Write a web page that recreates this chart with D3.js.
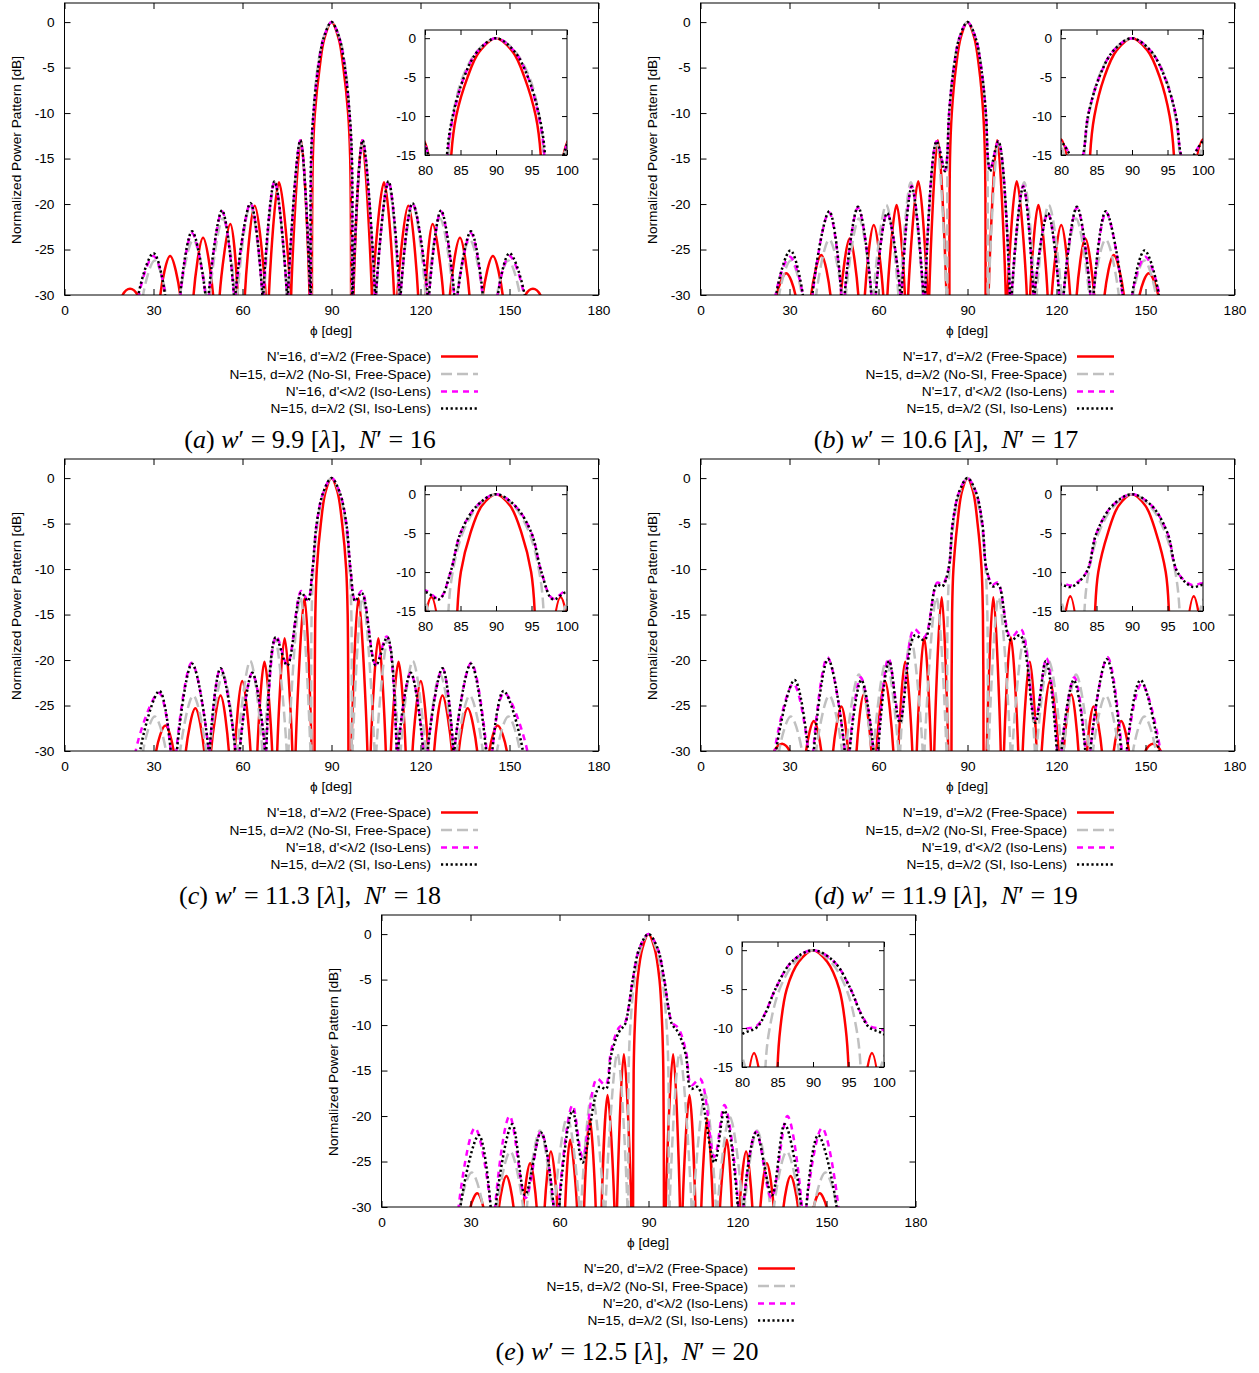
<!DOCTYPE html>
<html>
<head>
<meta charset="utf-8">
<script src="https://cdn.jsdelivr.net/npm/d3@7"></script>
<style>
    body { margin: 0; background: #fff; }
    svg text { font-family: "Liberation Sans", Arial, Helvetica, sans-serif; font-size: 13.7px; fill: #000; }
    svg text.cap { font-family: "Liberation Serif", "DejaVu Serif", serif; font-size: 26px; white-space: pre; }
</style>
</head>
<body>
<svg id="chart" width="1259" height="1373"></svg>
<script>
// panel captions
const panelKeys = ['a', 'b', 'c', 'd', 'e'];
const nPrimeValues = [16, 17, 18, 19, 20];
const widthValues = ['9.9', '10.6', '11.3', '11.9', '12.5'];

const xTicks = [0, 30, 60, 90, 120, 150, 180];
const yTicks = [0, -5, -10, -15, -20, -25, -30];
const xInsetTicks = [80, 85, 90, 95, 100];
const yInsetTicks = [0, -5, -10, -15];

// every curve is a list of lobes, each lobe a list of [phi deg, dB];
// a lobe starts and ends where it crosses the -30 dB floor

// N=15, d=λ/2 (No-SI, Free-Space): the same reference curve in every panel
const n15Free = [
    [[26.5,-30],[30.4,-26.2],[34.2,-30]],
    [[39.0,-30],[43.4,-23.9],[47.7,-30]],
    [[49.0,-30],[53.4,-21.6],[57.6,-30]],
    [[58.3,-30],[62.6,-20.1],[66.7,-30]],
    [[67.3,-30],[70.9,-17.6],[74.9,-30]],
    [[75.5,-30],[79.5,-13.1],[82.9,-30]],
    [[83.2,-30],[83.3,-15],[83.9,-10],[85.3,-5],[87.4,-1.6],[90,0],[92.6,-1.6],[94.7,-5],[96.1,-10],[96.7,-15],[96.8,-30]],
    [[97.1,-30],[100.5,-13.1],[104.5,-30]],
    [[105.1,-30],[109.1,-17.6],[112.7,-30]],
    [[113.3,-30],[117.4,-20.1],[121.7,-30]],
    [[122.4,-30],[126.6,-21.6],[131.0,-30]],
    [[132.3,-30],[136.6,-23.9],[141.0,-30]],
    [[145.8,-30],[149.6,-26.2],[153.5,-30]]
];

// (a) N'=16
const redA = [
    [[19.6,-30],[22.1,-29.3],[24.6,-30]],
    [[32.3,-30],[35.6,-25.7],[39.0,-30]],
    [[43.5,-30],[46.7,-23.7],[50.1,-30]],
    [[52.3,-30],[55.9,-22.2],[58.4,-30]],
    [[60.8,-30],[64.1,-20.2],[67.8,-30]],
    [[68.9,-30],[72.3,-17.6],[76.2,-30]],
    [[76.4,-30],[79.7,-13.0],[82.6,-30]],
    [[83.4,-30],[83.7,-15],[84.4,-10],[86.0,-5],[87.6,-1.8],[90,0],[92.4,-1.8],[94.0,-5],[95.6,-10],[96.3,-15],[96.6,-30]],
    [[97.4,-30],[100.3,-13.0],[103.6,-30]],
    [[103.8,-30],[107.7,-17.6],[111.1,-30]],
    [[112.2,-30],[115.9,-20.2],[119.2,-30]],
    [[121.6,-30],[124.1,-22.2],[127.7,-30]],
    [[129.9,-30],[133.3,-23.7],[136.5,-30]],
    [[141.0,-30],[144.4,-25.7],[147.7,-30]],
    [[155.4,-30],[157.9,-29.3],[160.4,-30]]
];
const magA = [
    [[25.1,-30],[30.0,-25.7],[34.0,-30]],
    [[39.1,-30],[43.0,-23.2],[47.5,-30]],
    [[48.7,-30],[53.1,-20.8],[57.1,-30]],
    [[57.7,-30],[62.7,-19.9],[66.7,-30]],
    [[67.1,-30],[70.8,-17.5],[75.0,-30]],
    [[75.4,-30],[79.5,-13.0],[82.8,-30]],
    [[83.0,-30],[83.2,-15],[84.0,-10],[85.5,-5],[87.4,-1.7],[90,0],[92.6,-1.7],[94.5,-5],[96.0,-10],[96.8,-15],[97.0,-30]],
    [[97.2,-30],[100.5,-13.0],[104.6,-30]],
    [[105.0,-30],[109.2,-17.5],[112.9,-30]],
    [[113.3,-30],[117.3,-19.9],[122.3,-30]],
    [[122.9,-30],[126.9,-20.8],[131.3,-30]],
    [[132.5,-30],[137.0,-23.2],[140.9,-30]],
    [[146.0,-30],[150.0,-25.7],[154.9,-30]]
];
const blkA = [
    [[24.9,-30],[30.0,-25.4],[33.9,-30]],
    [[39.0,-30],[43.0,-23.0],[47.5,-30]],
    [[48.6,-30],[53.1,-20.7],[57.1,-30]],
    [[57.6,-30],[62.7,-19.9],[66.7,-30]],
    [[67.0,-30],[70.8,-17.5],[75.0,-30]],
    [[75.3,-30],[79.5,-13.0],[82.8,-30]],
    [[83.0,-30],[83.1,-15],[83.9,-10],[85.5,-5],[87.4,-1.7],[90,0],[92.6,-1.7],[94.5,-5],[96.1,-10],[96.9,-15],[97.0,-30]],
    [[97.2,-30],[100.5,-13.0],[104.7,-30]],
    [[105.0,-30],[109.2,-17.5],[113.0,-30]],
    [[113.3,-30],[117.3,-19.9],[122.4,-30]],
    [[122.9,-30],[126.9,-20.7],[131.4,-30]],
    [[132.5,-30],[137.0,-23.0],[141.0,-30]],
    [[146.1,-30],[150.0,-25.4],[155.1,-30]]
];

// (b) N'=17
const redB = [
    [[25.7,-30],[28.9,-27.6],[32.0,-30]],
    [[37.3,-30],[40.7,-25.6],[43.8,-30]],
    [[47.3,-30],[50.3,-23.8],[53.2,-30]],
    [[55.4,-30],[58.4,-22.3],[61.6,-30]],
    [[63.0,-30],[66.1,-20.1],[68.9,-30]],
    [[70.0,-30],[73.4,-17.5],[76.5,-30]],
    [[77.1,-30],[80.0,-13.0],[82.9,-30]],
    [[83.9,-30],[84.1,-15],[84.7,-10],[86.1,-5],[87.8,-1.6],[90,0],[92.2,-1.6],[93.9,-5],[95.3,-10],[95.9,-15],[96.1,-30]],
    [[97.1,-30],[100.0,-13.0],[102.9,-30]],
    [[103.5,-30],[106.6,-17.5],[110.0,-30]],
    [[111.1,-30],[113.9,-20.1],[117.0,-30]],
    [[118.4,-30],[121.6,-22.3],[124.6,-30]],
    [[126.8,-30],[129.7,-23.8],[132.7,-30]],
    [[136.2,-30],[139.3,-25.6],[142.7,-30]],
    [[148.0,-30],[151.1,-27.6],[154.3,-30]]
];
const magB = [
    [[25.3,-30],[30.1,-25.8],[34.5,-30]],
    [[37.8,-30],[43.3,-20.9],[47.5,-30]],
    [[48.6,-30],[53.1,-20.4],[57.6,-30]],
    [[59.1,-30],[62.9,-21.0],[67.4,-30]],
    [[67.8,-30],[71.2,-18.0],[75.1,-30]],
    [[75.7,-30],[79.6,-13.1],[82.4,-16.3],[83.1,-15],[83.8,-10],[85.4,-5],[87.3,-1.7],[90,0],[92.7,-1.7],[94.6,-5],[96.2,-10],[96.9,-15],[97.6,-16.3],[100.4,-13.1],[104.3,-30]],
    [[104.9,-30],[108.8,-18.0],[112.2,-30]],
    [[112.6,-30],[117.1,-21.0],[120.9,-30]],
    [[122.4,-30],[126.9,-20.4],[131.4,-30]],
    [[132.5,-30],[136.7,-20.9],[142.2,-30]],
    [[145.5,-30],[149.9,-25.8],[154.7,-30]]
];
const blkB = [
    [[25.5,-30],[30.3,-25.1],[34.5,-30]],
    [[37.7,-30],[43.4,-20.8],[47.5,-30]],
    [[48.6,-30],[53.1,-20.3],[57.6,-30]],
    [[59.1,-30],[62.9,-21.0],[67.4,-30]],
    [[67.8,-30],[71.2,-18.1],[75.1,-30]],
    [[75.7,-30],[79.6,-13.1],[82.4,-16.4],[83.1,-15],[83.8,-10],[85.4,-5],[87.3,-1.7],[90,0],[92.7,-1.7],[94.6,-5],[96.2,-10],[96.9,-15],[97.6,-16.4],[100.4,-13.1],[104.3,-30]],
    [[104.9,-30],[108.8,-18.1],[112.2,-30]],
    [[112.6,-30],[117.1,-21.0],[120.9,-30]],
    [[122.4,-30],[126.9,-20.3],[131.4,-30]],
    [[132.5,-30],[136.6,-20.8],[142.3,-30]],
    [[145.5,-30],[149.7,-25.1],[154.5,-30]]
];

// (c) N'=18
const redC = [
    [[30.9,-30],[34.0,-27.2],[36.8,-30]],
    [[40.9,-30],[44.1,-25.3],[47.1,-30]],
    [[49.4,-30],[52.6,-23.9],[55.4,-30]],
    [[57.4,-30],[59.9,-22.3],[62.7,-30]],
    [[65.0,-30],[67.4,-20.2],[70.0,-30]],
    [[71.7,-30],[74.2,-17.6],[76.8,-30]],
    [[77.9,-30],[80.9,-13.2],[83.3,-30]],
    [[84.3,-30],[84.55,-15],[85.05,-10],[86.4,-5],[88.0,-1.5],[90,0],[92.0,-1.5],[93.6,-5],[94.95,-10],[95.45,-15],[95.7,-30]],
    [[96.7,-30],[99.1,-13.2],[102.1,-30]],
    [[103.2,-30],[105.8,-17.6],[108.3,-30]],
    [[110.0,-30],[112.6,-20.2],[115.0,-30]],
    [[117.3,-30],[120.1,-22.3],[122.6,-30]],
    [[124.6,-30],[127.4,-23.9],[130.6,-30]],
    [[132.9,-30],[135.9,-25.3],[139.1,-30]],
    [[143.2,-30],[146.0,-27.2],[149.1,-30]]
];
const magC = [
    [[24.0,-30],[31.8,-23.6],[35.8,-30]],
    [[37.7,-30],[42.9,-20.3],[48.6,-30]],
    [[48.9,-30],[52.6,-20.9],[57.6,-30]],
    [[59.0,-30],[63.3,-21.4],[67.6,-30]],
    [[68.0,-30],[71.4,-17.4],[75.1,-20.5],[79.8,-12.4],[82.0,-13.4],[83.6,-10],[85.0,-5],[87.2,-1.6],[90,0],[92.8,-1.6],[95.0,-5],[96.4,-10],[98.0,-13.4],[100.2,-12.4],[104.9,-20.5],[108.6,-17.4],[112.0,-30]],
    [[112.4,-30],[116.7,-21.4],[121.0,-30]],
    [[122.4,-30],[127.4,-20.9],[131.1,-30]],
    [[131.4,-30],[137.1,-20.3],[142.3,-30]],
    [[144.2,-30],[148.2,-23.6],[156.0,-30]]
];
const blkC = [
    [[25.5,-30],[32.0,-23.4],[35.8,-30]],
    [[37.9,-30],[43.0,-20.4],[48.6,-30]],
    [[48.9,-30],[52.6,-20.9],[57.6,-30]],
    [[59.1,-30],[63.3,-21.4],[67.6,-30]],
    [[68.0,-30],[71.2,-17.5],[75.1,-20.6],[79.8,-12.6],[82.0,-13.5],[83.6,-10],[85.0,-5],[87.2,-1.6],[90,0],[92.8,-1.6],[95.0,-5],[96.4,-10],[98.0,-13.5],[100.2,-12.6],[104.9,-20.6],[108.8,-17.5],[112.0,-30]],
    [[112.4,-30],[116.7,-21.4],[120.9,-30]],
    [[122.4,-30],[127.4,-20.9],[131.1,-30]],
    [[131.4,-30],[137.0,-20.4],[142.1,-30]],
    [[144.2,-30],[148.0,-23.4],[154.5,-30]]
];

// (d) N'=19
const redD = [
    [[24.9,-30],[27.5,-29.2],[30.0,-30]],
    [[35.6,-30],[38.2,-26.7],[40.7,-30]],
    [[44.7,-30],[47.5,-25.1],[49.7,-30]],
    [[52.6,-30],[55.0,-23.8],[57.6,-30]],
    [[59.3,-30],[62.2,-22.3],[65.0,-30]],
    [[66.7,-30],[69.0,-20.2],[71.4,-30]],
    [[72.9,-30],[75.4,-17.5],[77.7,-30]],
    [[78.8,-30],[81.3,-13.1],[83.5,-30]],
    [[84.6,-30],[84.8,-15],[85.25,-10],[86.6,-5],[88.1,-1.5],[90,0],[91.9,-1.5],[93.4,-5],[94.75,-10],[95.2,-15],[95.4,-30]],
    [[96.5,-30],[98.7,-13.1],[101.2,-30]],
    [[102.3,-30],[104.6,-17.5],[107.1,-30]],
    [[108.6,-30],[111.0,-20.2],[113.3,-30]],
    [[115.0,-30],[117.8,-22.3],[120.7,-30]],
    [[122.4,-30],[125.0,-23.8],[127.4,-30]],
    [[130.3,-30],[132.5,-25.1],[135.3,-30]],
    [[139.3,-30],[141.8,-26.7],[144.4,-30]],
    [[150.0,-30],[152.5,-29.2],[155.1,-30]]
];
const magD = [
    [[25.0,-30],[31.3,-22.6],[36.3,-30]],
    [[38.0,-30],[42.8,-19.7],[48.6,-30]],
    [[50.2,-30],[54.0,-21.9],[58.3,-30]],
    [[59.8,-30],[63.4,-19.8],[67.2,-26.5],[72.0,-16.6],[75.4,-17.5],[79.8,-11.5],[81.5,-11.7],[83.6,-10],[85.0,-5],[87.2,-1.5],[90,0],[92.8,-1.5],[95.0,-5],[96.4,-10],[98.5,-11.7],[100.2,-11.5],[104.6,-17.5],[108.0,-16.6],[112.8,-26.5],[116.6,-19.8],[120.2,-30]],
    [[121.7,-30],[126.0,-21.9],[129.8,-30]],
    [[131.4,-30],[137.2,-19.7],[142.0,-30]],
    [[143.7,-30],[148.7,-22.6],[155.0,-30]]
];
const blkD = [
    [[25.5,-30],[31.7,-22.2],[36.3,-30]],
    [[38.2,-30],[43.0,-19.9],[48.6,-30]],
    [[50.3,-30],[54.2,-22.2],[58.3,-30]],
    [[59.9,-30],[63.6,-20.1],[67.2,-26.9],[72.2,-17.3],[75.5,-17.8],[79.6,-11.7],[81.5,-11.9],[83.6,-10],[85.0,-5],[87.2,-1.5],[90,0],[92.8,-1.5],[95.0,-5],[96.4,-10],[98.5,-11.9],[100.4,-11.7],[104.5,-17.8],[107.8,-17.3],[112.8,-26.9],[116.4,-20.1],[120.1,-30]],
    [[121.7,-30],[125.8,-22.2],[129.7,-30]],
    [[131.4,-30],[137.0,-19.9],[141.8,-30]],
    [[143.7,-30],[148.3,-22.2],[154.5,-30]]
];

// (e) N'=20
const redE = [
    [[30.0,-30],[32.3,-28.5],[34.3,-30]],
    [[39.6,-30],[42.1,-26.6],[44.5,-30]],
    [[47.8,-30],[50.1,-25.2],[52.3,-30]],
    [[55.0,-30],[57.1,-23.9],[59.3,-30]],
    [[61.9,-30],[63.6,-22.6],[65.9,-30]],
    [[68.3,-30],[70.2,-20.3],[72.2,-30]],
    [[74.2,-30],[76.2,-17.7],[78.5,-30]],
    [[79.4,-30],[81.7,-13.2],[84.2,-30]],
    [[84.8,-30],[85.0,-15],[85.4,-10],[86.3,-5],[88.0,-1.5],[90,0],[92.0,-1.5],[93.7,-5],[94.6,-10],[95.0,-15],[95.2,-30]],
    [[95.8,-30],[98.3,-13.2],[100.6,-30]],
    [[101.5,-30],[103.8,-17.7],[105.8,-30]],
    [[107.8,-30],[109.8,-20.3],[111.7,-30]],
    [[114.1,-30],[116.4,-22.6],[118.1,-30]],
    [[120.7,-30],[122.9,-23.9],[125.0,-30]],
    [[127.7,-30],[129.9,-25.2],[132.2,-30]],
    [[135.5,-30],[137.9,-26.6],[140.4,-30]],
    [[145.7,-30],[147.7,-28.5],[150.0,-30]]
];
const magE = [
    [[26.0,-30],[31.5,-21.3],[36.8,-30]],
    [[38.3,-30],[43.2,-20.0],[48.6,-29.0],[53.7,-21.7],[58.0,-30]],
    [[59.7,-30],[64.4,-18.8],[67.8,-24.5],[72.6,-15.9],[75.5,-16.6],[77.4,-12.8],[80.0,-10.3],[82.1,-9.7],[83.3,-8.0],[84.7,-5],[87.0,-1.5],[90,0],[93.0,-1.5],[95.3,-5],[96.7,-8.0],[97.9,-9.7],[100.0,-10.3],[102.6,-12.8],[104.5,-16.6],[107.4,-15.9],[112.2,-24.5],[115.6,-18.8],[120.3,-30]],
    [[122.0,-30],[126.3,-21.7],[131.4,-29.0],[136.8,-20.0],[141.7,-30]],
    [[143.2,-30],[148.5,-21.3],[154.0,-30]]
];
const blkE = [
    [[26.6,-30],[32.8,-22.1],[36.8,-30]],
    [[38.5,-30],[44.1,-20.9],[48.4,-28.7],[53.7,-21.8],[58.0,-30]],
    [[59.9,-30],[64.4,-19.4],[67.8,-25.1],[73.4,-16.8],[75.7,-17.0],[77.4,-13.3],[80.0,-10.8],[82.1,-9.9],[83.3,-8.1],[84.7,-5],[87.0,-1.5],[90,0],[93.0,-1.5],[95.3,-5],[96.7,-8.1],[97.9,-9.9],[100.0,-10.8],[102.6,-13.3],[104.3,-17.0],[106.6,-16.8],[112.2,-25.1],[115.6,-19.4],[120.1,-30]],
    [[122.0,-30],[126.3,-21.8],[131.6,-28.7],[135.9,-20.9],[141.5,-30]],
    [[143.2,-30],[147.2,-22.1],[153.4,-30]]
];

const redCurves = [redA, redB, redC, redD, redE];
const magCurves = [magA, magB, magC, magD, magE];
const blkCurves = [blkA, blkB, blkC, blkD, blkE];

// layout
const offsets = [[0, 0], [636, 0], [0, 456], [636, 456], [317, 912]];
const styles = [
    { stroke: '#ff0000', dash: null },
    { stroke: '#c0c0c0', dash: '11,5' },
    { stroke: '#ff00ff', dash: '6,5' },
    { stroke: '#000000', dash: '2.2,2.6' }
];
const FLOOR = -34; // lobes dive into their nulls below the -30 dB floor
const plain = d => String(d); // hyphen minus like gnuplot

const svg = d3.select('#chart');

function lobePaths(xs, ys, lobes) {
    const line = d3.line()
        .x(d => xs(d[0]))
        .y(d => ys(d[1]))
        .curve(d3.curveCatmullRom.alpha(0.5));
    return lobes.map(l => {
        const first = l[0], last = l[l.length - 1];
        return line([[first[0], FLOOR]].concat(l, [[last[0], FLOOR]]));
    }).join('');
}

function drawCurves(g, xs, ys, curves, clipId) {
    const cg = g.append('g').attr('clip-path', `url(#${clipId})`);
    curves.forEach((c, i) => {
        cg.append('path')
            .attr('d', lobePaths(xs, ys, c))
            .attr('fill', 'none')
            .attr('stroke', styles[i].stroke)
            .attr('stroke-width', 2.5)
            .attr('stroke-dasharray', styles[i].dash);
    });
}

function styleAxis(a) {
    a.select('.domain').remove();
    a.attr('font-family', null).attr('font-size', null);
}

function drawPanel(k) {
    const [dx, dy] = offsets[k];
    const key = panelKeys[k];
    const n = nPrimeValues[k];
    const g = svg.append('g').attr('transform', `translate(${dx},${dy})`);

    const x = d3.scaleLinear().domain([0, 180]).range([64.5, 598.5]);
    const y = d3.scaleLinear().domain([-30, 2.1]).range([295, 3]);
    const xi = d3.scaleLinear().domain([80, 100]).range([425, 567]);
    const yi = d3.scaleLinear().domain([-15, 1.05]).range([155, 30]);

    const defs = g.append('defs');
    defs.append('clipPath').attr('id', 'clip-' + key)
        .append('rect').attr('x', x(0)).attr('y', y(2.1))
        .attr('width', x(180) - x(0)).attr('height', y(-30) - y(2.1));
    defs.append('clipPath').attr('id', 'clipi-' + key)
        .append('rect').attr('x', xi(80)).attr('y', yi(1.05))
        .attr('width', xi(100) - xi(80)).attr('height', yi(-15) - yi(1.05));

    const curves = [redCurves[k], n15Free, magCurves[k], blkCurves[k]];

    // main plot
    drawCurves(g, x, y, curves, 'clip-' + key);
    g.append('rect').attr('x', x(0)).attr('y', y(2.1))
        .attr('width', x(180) - x(0)).attr('height', y(-30) - y(2.1))
        .attr('fill', 'none').attr('stroke', '#000').attr('stroke-width', 1);

    styleAxis(g.append('g').attr('transform', `translate(0,${y(-30)})`)
        .call(d3.axisBottom(x).tickValues(xTicks).tickSize(-6).tickPadding(10).tickFormat(plain)));
    styleAxis(g.append('g').attr('transform', `translate(0,${y(2.1)})`)
        .call(d3.axisTop(x).tickValues(xTicks).tickSize(-6).tickFormat('')));
    styleAxis(g.append('g').attr('transform', `translate(${x(0)},0)`)
        .call(d3.axisLeft(y).tickValues(yTicks).tickSize(-6).tickPadding(10).tickFormat(plain)));
    styleAxis(g.append('g').attr('transform', `translate(${x(180)},0)`)
        .call(d3.axisRight(y).tickValues(yTicks).tickSize(-6).tickFormat('')));

    g.append('text').attr('x', 331).attr('y', 335).attr('text-anchor', 'middle')
        .text('\u03d5 [deg]');
    g.append('text').attr('transform', 'translate(21,150) rotate(-90)')
        .attr('text-anchor', 'middle').text('Normalized Power Pattern [dB]');

    // inset: main beam zoom
    g.append('rect').attr('x', xi(80)).attr('y', yi(1.05))
        .attr('width', xi(100) - xi(80)).attr('height', yi(-15) - yi(1.05))
        .attr('fill', '#fff');
    drawCurves(g, xi, yi, curves, 'clipi-' + key);
    g.append('rect').attr('x', xi(80)).attr('y', yi(1.05))
        .attr('width', xi(100) - xi(80)).attr('height', yi(-15) - yi(1.05))
        .attr('fill', 'none').attr('stroke', '#000').attr('stroke-width', 1);
    styleAxis(g.append('g').attr('transform', `translate(0,${yi(-15)})`)
        .call(d3.axisBottom(xi).tickValues(xInsetTicks).tickSize(-5).tickPadding(10).tickFormat(plain)));
    styleAxis(g.append('g').attr('transform', `translate(0,${yi(1.05)})`)
        .call(d3.axisTop(xi).tickValues(xInsetTicks).tickSize(-5).tickFormat('')));
    styleAxis(g.append('g').attr('transform', `translate(${xi(80)},0)`)
        .call(d3.axisLeft(yi).tickValues(yInsetTicks).tickSize(-5).tickPadding(9).tickFormat(plain)));
    styleAxis(g.append('g').attr('transform', `translate(${xi(100)},0)`)
        .call(d3.axisRight(yi).tickValues(yInsetTicks).tickSize(-5).tickFormat('')));

    // legend
    const labels = [
        `N'=${n}, d'=\u03bb/2 (Free-Space)`,
        'N=15, d=\u03bb/2 (No-SI, Free-Space)',
        `N'=${n}, d'<\u03bb/2 (Iso-Lens)`,
        'N=15, d=\u03bb/2 (SI, Iso-Lens)'
    ];
    const rowY = [356.5, 374, 391.5, 408.5];
    labels.forEach((t, i) => {
        g.append('text').attr('x', 431).attr('y', rowY[i]).attr('dy', '0.35em')
            .attr('text-anchor', 'end').text(t);
        g.append('line').attr('x1', 441).attr('x2', 478)
            .attr('y1', rowY[i]).attr('y2', rowY[i])
            .attr('stroke', styles[i].stroke).attr('stroke-width', 2.5)
            .attr('stroke-dasharray', styles[i].dash);
    });

    // caption
    const cap = g.append('text').attr('class', 'cap')
        .attr('x', 310).attr('y', 448).attr('text-anchor', 'middle');
    cap.append('tspan').text('(');
    cap.append('tspan').attr('font-style', 'italic').text(key);
    cap.append('tspan').text(')\u2005');
    cap.append('tspan').attr('font-style', 'italic').text('w');
    cap.append('tspan').text(`\u2032\u2005=\u2005${widthValues[k]} [`);
    cap.append('tspan').attr('font-style', 'italic').text('\u03bb');
    cap.append('tspan').text('],\u2002');
    cap.append('tspan').attr('font-style', 'italic').text('N');
    cap.append('tspan').text(`\u2032\u2005=\u2005${n}`);
}

panelKeys.forEach((key, k) => drawPanel(k));
</script>
</body>
</html>
